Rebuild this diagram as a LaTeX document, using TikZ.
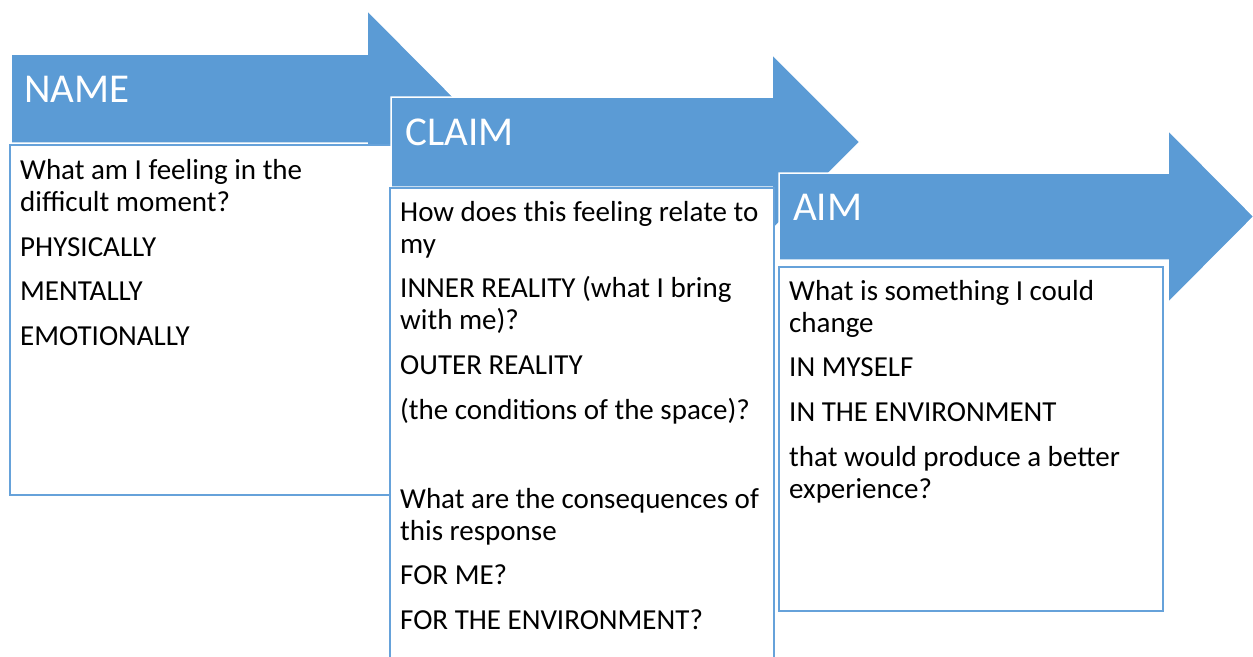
\documentclass[tikz,border=0pt]{standalone}
\usepackage{fontspec}
\setmainfont{Carlito}
\definecolor{accent}{HTML}{5B9BD5}
\definecolor{frame}{HTML}{66A2DA}
\newcommand\parbreak{\\[12.6pt]}
\begin{document}
\begin{tikzpicture}[x=1pt,y=-1pt,
  banner/.style={fill=accent, draw=white, line width=1.5pt, line join=miter},
  panel/.style={fill=white, draw=frame, line width=2pt},
  heading/.style={anchor=base west, inner sep=0pt, text=white, font=\fontsize{41}{49}\selectfont},
  body/.style={anchor=north west, inner sep=0pt, align=left, font=\fontsize{29}{32}\selectfont}]
\useasboundingbox (0,0) rectangle (1253,656);
\clip (0,0) rectangle (1253,656);

% NAME step
\path[banner] (11,54) -- (367,54) -- (367,10) -- (455,98.5) -- (367,187) -- (367,143) -- (11,143) -- cycle;
\path[panel] (10,145) rectangle (396,495);
\node[heading] (nameHead) at (24,102) {NAME};
\node[body] (nameText) at (20,157.5) {\rule{0pt}{22pt}What am I feeling in the\\
  difficult moment?\parbreak
  PHYSICALLY\parbreak
  MENTALLY\parbreak
  EMOTIONALLY};

% CLAIM step
\path[banner] (391,97) -- (772,97) -- (772,54) -- (860,142) -- (772,230) -- (772,187) -- (391,187) -- cycle;
\path[panel] (390,188) rectangle (774,680);
\node[heading] (claimHead) at (405,145) {CLAIM};
\node[body] (claimText) at (400,199) {\rule{0pt}{22pt}How does this feeling relate to\\
  my\parbreak
  INNER REALITY (what I bring\\
  with me)?\parbreak
  OUTER REALITY\parbreak
  (the conditions of the space)?\parbreak
  \mbox{}\parbreak
  What are the consequences of\\
  this response\parbreak
  FOR ME?\parbreak
  FOR THE ENVIRONMENT?};

% AIM step
\path[banner] (779,173) -- (1168,173) -- (1168,130) -- (1254,216.5) -- (1168,303) -- (1168,260) -- (779,260) -- cycle;
\path[panel] (779,267) rectangle (1163,611);
\node[heading] (aimHead) at (793,220) {AIM};
\node[body] (aimText) at (789,278) {\rule{0pt}{22pt}What is something I could\\
  change\parbreak
  IN MYSELF\parbreak
  IN THE ENVIRONMENT\parbreak
  that would produce a better\\
  experience?};
\end{tikzpicture}
\end{document}
